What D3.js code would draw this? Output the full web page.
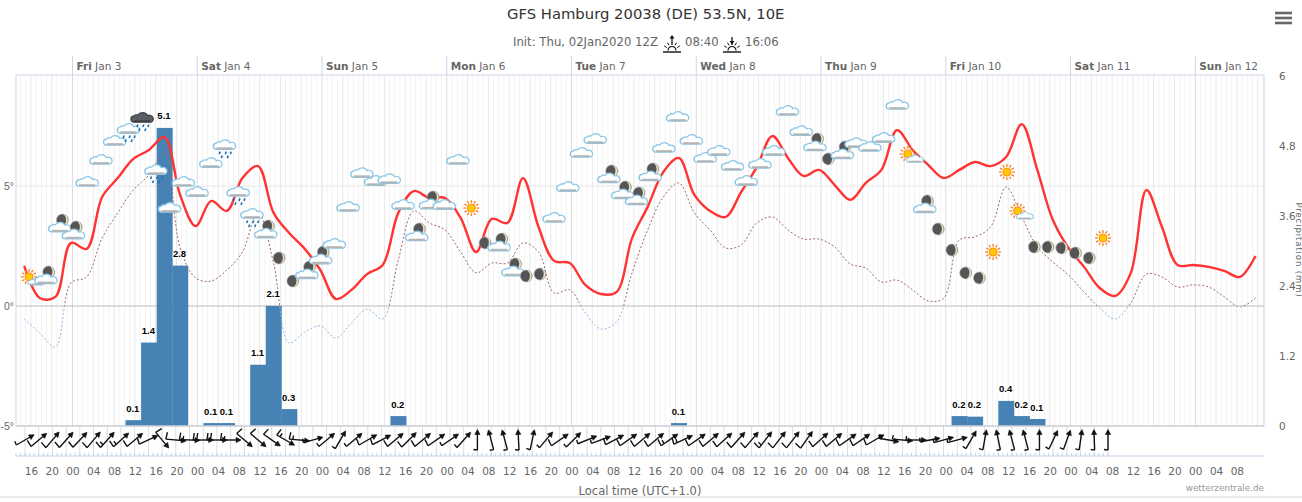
<!DOCTYPE html>
<html lang="en">
<head>
<meta charset="utf-8">
<title>GFS Hamburg</title>
<script src="https://cdn.jsdelivr.net/npm/d3@7"></script>
<style>
  html, body { margin: 0; background: #fff; overflow: hidden; }
  svg { display: block; font-family: "DejaVu Sans", sans-serif; }
</style>
</head>
<body>
<svg id="chart" width="1302" height="502"></svg>
<script>
// 2m temperature, 3-hourly, deg C
const temperature = [1.67,.33,.38,2.63,2.38,4.54,5.33,6.13,6.5,7.04,4.63,3.33,4.38,3.96,5.33,5.83,3.88,3.04,2.38,1.5,
  .29,.67,1.33,1.71,3.88,4.79,4.5,4.5,3.67,2.25,3.63,3.46,5.33,3.29,1.88,1.79,.88,.5,.58,2.83,
  4.13,5.58,6.17,4.63,3.96,3.71,4.75,5.79,7.08,6.17,5.42,5.67,5.04,4.42,5.13,5.67,7.33,6.5,5.88,5.33,
  5.67,6,5.83,6.21,7.58,5.67,3.58,2.42,1.63,.75,.42,1.38,4.83,3.29,1.71,1.71,1.63,1.46,1.21,2.08];
// dew point
const dewPoint = [-.54,-1.13,-1.71,.96,1.21,2.83,3.88,4.83,5.46,6.38,2.42,1.17,1.04,1.5,2.25,3.92,1.79,-1.54,-1.08,-.83,
  -1.33,-.71,-.13,-.54,1.92,3.96,3.46,3.17,2.25,1.38,1.79,1.79,2.63,2.25,.54,.67,-.29,-.96,-.67,1.38,
  3.17,4.54,5.13,3.88,3.17,2.42,2.54,3.46,3.71,3.17,2.79,2.79,2.46,1.75,1.58,1,1.08,.67,.21,.33,
  2.75,2.88,3.29,4.96,3.71,2.46,1.83,1.29,.58,-.08,-.54,.13,1.33,1.21,.79,.88,.79,.38,-.04,.33];
// precipitation per 3h step, mm
const precipitation = [0,0,0,0,0,0,0,.1,1.43,5.11,2.75,0,.05,.05,0,1.05,2.06,.29,0,0,
  0,0,0,0,.17,0,0,0,0,0,0,0,0,0,0,0,0,0,0,0,
  0,0,.05,0,0,0,0,0,0,0,0,0,0,0,0,0,0,0,0,0,
  .17,.16,0,.43,.17,.12,0,0,0,0,0,0,0,0,0,0,0,0,0,0];
// weather symbol per step: c cloud, n night+cloud, m moon, s sun, k sun+cloud, r rain, d dark rain, w wet cloud
const iconKinds = ["k","n","n","n","c","c","c","r","d","w","c","c","c","c","r","r","r","n","m","m",
  "n","n","c","c","c","c","c","c","n","n","c","c","s","m","n","n","m","m","c","c",
  "c","c","n","n","n","n","c","c","c","c","c","c","c","c","c","c","c","n","m","n",
  "c","c","c","c","k","n","m","m","m","m","s","s","k","m","m","m","m","m","s"];
const iconLevels = [1.13,1.17,3.33,3.04,5.21,6.13,6.92,7.25,7.71,5.54,4.13,5.21,4.79,6,6.58,4.63,3.71,3.08,2,1.04,
  1.38,2,2.63,4.17,5.58,5.25,5.33,4.25,2.96,4.29,4.25,6.13,4.08,2.63,2.54,1.5,1.25,1.33,3.71,5,
  6.42,7,5.38,4.71,4.46,5.46,6.63,7.92,6.96,6.21,6.5,5.88,5.25,5.96,6.5,8.17,7.33,6.71,6.13,6.38,
  6.83,6.67,7.04,8.42,6.25,4.13,3.21,2.33,1.38,1.17,2.25,5.58,3.88,2.46,2.46,2.42,2.21,2,2.83];
// wind arrow heading (deg from north) and speed (kn)
const windHeading = [60,50,40,42,43,40,42,48,50,65,140,95,92,90,90,90,130,130,125,120,
  95,75,50,30,50,60,62,50,45,50,55,55,42,0,-15,-15,-3,12,40,55,
  45,68,70,62,55,50,50,55,65,55,50,48,42,40,38,38,38,35,48,50,
  55,55,60,100,95,90,80,75,75,30,10,-12,-15,-15,0,25,20,8,-2,0];
const windSpeed = [5,10,10,10,10,10,15,15,10,10,10,10,15,20,20,15,10,10,10,15,
  15,5,5,5,5,10,10,10,10,10,10,5,5,5,5,5,5,5,5,10,
  5,5,5,10,10,10,10,15,15,10,10,10,10,10,15,10,10,10,10,10,
  10,10,10,5,5,5,5,5,5,5,5,5,5,5,5,5,5,5,5,5];
const dayNames = ["Fri","Sat","Sun","Mon","Tue","Wed","Thu","Fri","Sat","Sun"];
const dayDates = ["Jan 3","Jan 4","Jan 5","Jan 6","Jan 7","Jan 8","Jan 9","Jan 10","Jan 11","Jan 12"];
const tempTicks = [5,0,-5];
const precipTicks = [6,4.8,3.6,2.4,1.2,0];

const svg = d3.select("#chart");
const plotLeft = 16, plotRight = 1264, plotTop = 75, plotBottom = 426;

const xHour = d3.scaleLinear().domain([0,216]).range([72.5,1195.3]);   // hours since Jan 3 00 local
const xStep = d3.scaleLinear().domain([0,79]).range([24.2,1255.5]);
const xWind = d3.scaleLinear().domain([0,79]).range([25,1108]);
const xIcon = d3.scaleLinear().domain([0,78]).range([32,1103]);
const yTemp = d3.scaleLinear().domain([-5,0,5]).range([plotBottom,306,186]);
const yPrecip = d3.scaleLinear().domain([0,6]).range([plotBottom,76]);

const hoursAll = d3.range(-10,230).filter(h => xHour(h) > plotLeft && xHour(h) < plotRight);
const days = d3.range(0,10).map(i => i*24);

// grid
const grid = svg.append("g");
grid.selectAll(".h1").data(hoursAll).join("line")
  .attr("x1",d=>xHour(d)).attr("x2",d=>xHour(d)).attr("y1",plotTop).attr("y2",plotBottom)
  .attr("stroke",d=> d%24===0 ? "#dcdcdc" : d%4===0 ? "#e8e8e8" : "#f3f3f3").attr("stroke-width",1);
grid.selectAll(".t").data(tempTicks.slice(0,2)).join("line")
  .attr("x1",plotLeft).attr("x2",plotRight).attr("y1",d=>yTemp(d)).attr("y2",d=>yTemp(d))
  .attr("stroke",d=>d===0?"#bbbbbb":"#e8e8e8").attr("stroke-width",d=>d===0?1.2:1);

// wind band
grid.selectAll(".w").data(d3.range(0,80)).join("line")
  .attr("x1",d=>xWind(d)).attr("x2",d=>xWind(d)).attr("y1",plotBottom).attr("y2",456)
  .attr("stroke","#dddddd");
grid.append("line").attr("x1",plotLeft).attr("x2",plotRight).attr("y1",456).attr("y2",456).attr("stroke","#c4d2e8").attr("stroke-width",1.2);
grid.selectAll(".wt").data(d3.range(-2,238)).join("line")
  .attr("x1",d=>xWind(d/3)).attr("x2",d=>xWind(d/3)).attr("y1",453).attr("y2",456)
  .attr("stroke","#c4d2e8");

// bars
const stepW = xStep(1)-xStep(0);
const wet = precipitation.map((v,i)=>({v,i})).filter(d=>d.v>0);
svg.append("g").selectAll("rect").data(wet).join("rect")
  .attr("x",d=>xStep(d.i)-stepW/2).attr("width",stepW+.4)
  .attr("y",d=>yPrecip(d.v)).attr("height",d=>plotBottom-yPrecip(d.v))
  .attr("fill","#4682b4");

// frame
svg.append("rect").attr("x",plotLeft).attr("y",plotTop).attr("width",plotRight-plotLeft).attr("height",plotBottom-plotTop)
  .attr("fill","none").attr("stroke","#ccd6eb");
svg.append("line").attr("x1",plotLeft).attr("x2",plotRight).attr("y1",plotBottom).attr("y2",plotBottom).attr("stroke","#c8c8c8").attr("stroke-width",1.2);

// dew point, clipped either side of 0 deg
const line = d3.line().curve(d3.curveCatmullRom);
const defs = svg.append("defs");
defs.append("clipPath").attr("id","above").append("rect").attr("x",0).attr("y",0).attr("width",1302).attr("height",yTemp(0));
defs.append("clipPath").attr("id","below").append("rect").attr("x",0).attr("y",yTemp(0)).attr("width",1302).attr("height",200);
const dewPath = line(dewPoint.map((v,i)=>[xStep(i),yTemp(v)]));
svg.append("path").attr("d",dewPath).attr("clip-path","url(#above)").attr("fill","none")
  .attr("stroke","#a5666b").attr("stroke-width",1).attr("stroke-dasharray","2,2");
svg.append("path").attr("d",dewPath).attr("clip-path","url(#below)").attr("fill","none")
  .attr("stroke","#8db6e2").attr("stroke-width",1).attr("stroke-dasharray","2,2");

// temperature
svg.append("path").attr("d",line(temperature.map((v,i)=>[xStep(i),yTemp(v)])))
  .attr("fill","none").attr("stroke","#ff3333").attr("stroke-width",2.4).attr("stroke-linejoin","round");

// bar labels
svg.append("g").selectAll("text").data(wet).join("text")
  .attr("x",d=>xStep(d.i)-.5).attr("y",d=>yPrecip(d.v)-8.5)
  .attr("text-anchor","middle").attr("font-family","Liberation Sans").attr("font-size",9.5).attr("font-weight","bold")
  .attr("fill","#000").attr("stroke","#fff").attr("stroke-width",1.5).attr("paint-order","stroke")
  .text(d=>d.v.toFixed(1));

// weather symbols
const cloudD = "M-8,4.5 a3.4,3.4 0 0 1 0.6,-6.6 a3.2,3.2 0 0 1 3.6,-1 a5.2,5.2 0 0 1 9.2,0.6 a3.6,3.6 0 0 1 3.2,7 z";
function cloud(g, dx, dy, k, dark) {
  const c = g.append("g").attr("transform",`translate(${dx},${dy}) scale(${k*1.05},${k*.95})`);
  c.append("path").attr("d",cloudD).attr("fill",dark?"#5a5f66":"#fdfefe").attr("stroke",dark?"#444":"#8cc6e6").attr("stroke-width",1.3);
  c.append("rect").attr("x",-7.5).attr("y",2.4).attr("width",15.5).attr("height",2).attr("fill",dark?"#3f4348":"#b4b4b4");
}
function moon(g, dx, dy) {
  const m = g.append("g").attr("transform",`translate(${dx},${dy})`);
  m.append("circle").attr("r",6).attr("fill","#555").attr("stroke","#aaa").attr("stroke-width",.6);
  m.append("path").attr("d","M1,-5.8 A6,6 0 0 1 1,5.8 A7.5,7.5 0 0 0 1,-5.8 Z").attr("fill","#e9e4c4");
}
function sun(g, dx, dy) {
  const s = g.append("g").attr("transform",`translate(${dx},${dy})`);
  s.selectAll("line").data(d3.range(0,12)).join("line")
    .attr("x1",d=>5.2*Math.cos(d*Math.PI/6)).attr("y1",d=>5.2*Math.sin(d*Math.PI/6))
    .attr("x2",d=>8*Math.cos(d*Math.PI/6)).attr("y2",d=>8*Math.sin(d*Math.PI/6))
    .attr("stroke","#ff7f1e").attr("stroke-width",1.3);
  s.append("circle").attr("r",4).attr("fill","#ffc800").attr("stroke","#ff8c1a");
}
function drops(g, dy, color) {
  g.selectAll(".d").data([[-5,0],[1,0],[6,0],[-3,4],[3,4]]).join("line")
    .attr("x1",d=>d[0]+1).attr("x2",d=>d[0]).attr("y1",d=>dy+d[1]).attr("y2",d=>dy+d[1]+2.5)
    .attr("stroke",color).attr("stroke-width",1.6);
}
const iconG = svg.append("g");
iconKinds.forEach((kind,i) => {
  const g = iconG.append("g").attr("transform",`translate(${xIcon(i)},${yTemp(iconLevels[i])})`);
  if (kind==="c") cloud(g,0,1,1);
  if (kind==="n") { moon(g,3,-6); cloud(g,0,1.5,1); }
  if (kind==="m") moon(g,0,0);
  if (kind==="s") sun(g,0,0);
  if (kind==="k") { sun(g,-3,-2); cloud(g,4,3,.75); }
  if (kind==="r") { cloud(g,0,-3,1); drops(g,3.5,"#1f6fb0"); }
  if (kind==="w") { cloud(g,0,-3,1); drops(g,3.5,"#1f6fb0"); }
  if (kind==="d") { cloud(g,0,-3,1,true); drops(g,3.5,"#1f6fb0"); }
});

// wind arrows
const windG = svg.append("g");
windHeading.forEach((h,i) => {
  const g = windG.append("g").attr("transform",`translate(${xWind(i)},440) rotate(${h})`)
    .attr("stroke","#111").attr("stroke-width",1.4).attr("fill","none");
  g.append("line").attr("x1",0).attr("y1",10).attr("x2",0).attr("y2",-9);
  g.append("path").attr("d","M-2.6,-5.5 L0,-10.5 L2.6,-5.5 Z").attr("fill","#111").attr("stroke-width",.6);
  const full = Math.floor(windSpeed[i]/10), half = windSpeed[i]%10>=5 ? 1 : 0;
  let at = 10;
  for (let b=0;b<full;b++) { g.append("line").attr("x1",0).attr("y1",at).attr("x2",-7).attr("y2",at-1); at -= 3.5; }
  if (half) g.append("line").attr("x1",0).attr("y1",at).attr("x2",-4).attr("y2",at-.5);
});

// top date axis
svg.append("g").selectAll("line").data(days).join("line")
  .attr("x1",d=>xHour(d)).attr("x2",d=>xHour(d)).attr("y1",56).attr("y2",plotTop).attr("stroke","#ccd6eb");
const dayLabels = svg.append("g").selectAll("text").data(days).join("text")
  .attr("x",d=>xHour(d)+4).attr("y",70).attr("font-size",10.5).attr("fill","#666");
dayLabels.append("tspan").attr("font-weight","bold").text((d,i)=>dayNames[i]);
dayLabels.append("tspan").text((d,i)=>" "+dayDates[i]);

// bottom hour labels
svg.append("g").selectAll("text").data(d3.range(-8,225,4)).join("text")
  .attr("x",d=>xHour(d)+.5).attr("y",475).attr("text-anchor","middle").attr("font-size",10.5).attr("fill","#666")
  .text(d=>d3.format("02d")(((d%24)+24)%24));

// left + right axes
svg.append("g").selectAll("text").data(tempTicks).join("text")
  .attr("x",14).attr("y",d=>yTemp(d)+4).attr("text-anchor","end")
  .attr("font-family","Liberation Sans").attr("font-size",10.5).attr("fill","#666")
  .text(d=>d+"°");
svg.append("g").selectAll("text").data(precipTicks).join("text")
  .attr("x",1279).attr("y",d=>yPrecip(d)+4).attr("font-size",10.5).attr("fill","#666")
  .text(d=>d);
svg.append("text").attr("transform","translate(1295.5,250) rotate(90)").attr("text-anchor","middle")
  .attr("font-size",8.5).attr("letter-spacing",.9).attr("fill","#666").text("Precipitation (mm)");

// titles
svg.append("text").attr("x",645.7).attr("y",19).attr("text-anchor","middle").attr("font-size",14.8).attr("fill","#333")
  .text("GFS Hamburg 20038 (DE) 53.5N, 10E");
const sub = svg.append("g").attr("font-size",11.7).attr("fill","#666");
sub.append("text").attr("x",513).attr("y",46).text("Init: Thu, 02Jan2020 12Z");
sub.append("text").attr("x",685).attr("y",46).text("08:40");
sub.append("text").attr("x",745).attr("y",46).text("16:06");

function riseIcon(cx, up) {
  const g = svg.append("g").attr("transform",`translate(${cx},49)`).attr("stroke","#111").attr("fill","none");
  g.append("line").attr("x1",-9).attr("x2",9).attr("y1",3).attr("y2",3).attr("stroke-width",1.4);
  g.append("path").attr("d","M-4,1.5 A4,4 0 0 1 4,1.5").attr("stroke-width",1.2);
  g.selectAll(".r").data([-150,-120,-60,-30]).join("line")
    .attr("x1",d=>6*Math.cos(d*Math.PI/180)).attr("y1",d=>1.5+6*Math.sin(d*Math.PI/180))
    .attr("x2",d=>9*Math.cos(d*Math.PI/180)).attr("y2",d=>1.5+9*Math.sin(d*Math.PI/180))
    .attr("stroke-width",1);
  g.append("line").attr("x1",0).attr("x2",0).attr("y1",-4).attr("y2",-12).attr("stroke-width",1.3);
  g.append("path").attr("d",up ? "M-2.5,-10.5 L0,-14 L2.5,-10.5 Z" : "M-2.5,-8 L0,-4.5 L2.5,-8 Z").attr("fill","#111").attr("stroke","none");
}
riseIcon(672,true);
riseIcon(732,false);

// hamburger
svg.append("g").selectAll("line").data([0,1,2]).join("line")
  .attr("x1",1275).attr("x2",1292).attr("y1",d=>13+d*5).attr("y2",d=>13+d*5)
  .attr("stroke","#666").attr("stroke-width",2.6);

// footer
svg.append("text").attr("x",640).attr("y",495).attr("text-anchor","middle").attr("font-size",11.5).attr("fill","#666").text("Local time (UTC+1.0)");
svg.append("text").attr("x",1264).attr("y",491).attr("text-anchor","end").attr("font-size",8.8).attr("fill","#999").text("wetterzentrale.de");
svg.append("line").attr("x1",0).attr("x2",1302).attr("y1",497).attr("y2",497).attr("stroke","#e3e3e3").attr("stroke-width",1.5);
</script>
</body>
</html>
